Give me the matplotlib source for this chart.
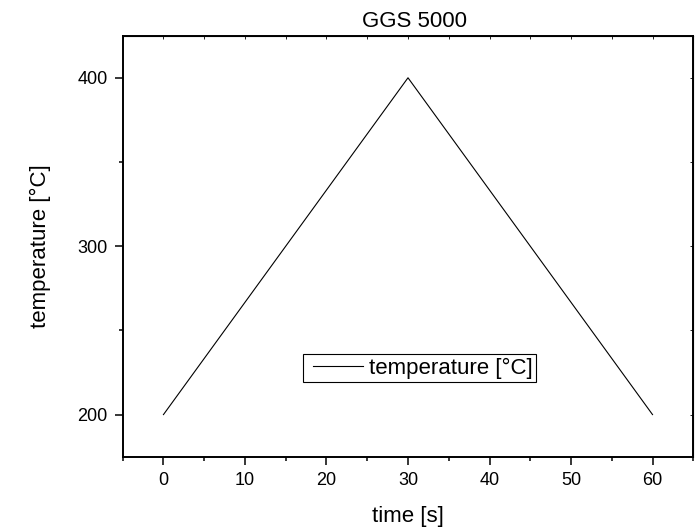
import matplotlib.pyplot as plt
from matplotlib.ticker import MultipleLocator
from matplotlib.legend_handler import HandlerLine2D

plt.rcParams['font.family'] = ['Liberation Sans', 'DejaVu Sans']

# data
time_s = [0, 30, 60]
temperature = [200, 400, 200]

fig = plt.figure(figsize=(6.96, 5.27), dpi=100)
ax = fig.add_axes([0.1763, 0.1334, 0.8198, 0.7989])

line, = ax.plot(time_s, temperature, color='black', linewidth=0.8, label='temperature [°C]')

ax.set_xlim(-5, 65)
ax.set_ylim(175, 425)
ax.xaxis.set_major_locator(MultipleLocator(10))
ax.xaxis.set_minor_locator(MultipleLocator(5))
ax.yaxis.set_major_locator(MultipleLocator(100))
ax.yaxis.set_minor_locator(MultipleLocator(50))

for s in ax.spines.values():
    s.set_linewidth(1.4)

ax.tick_params(which='major', direction='out', length=6, width=1.1, labelsize=13, pad=5)
ax.tick_params(which='minor', direction='out', length=3, width=1.1)

# top/right small inner ticks
sec_x = ax.secondary_xaxis('top')
sec_x.xaxis.set_major_locator(MultipleLocator(5))
sec_x.tick_params(direction='in', length=2, width=0.6, labeltop=False)
sec_y = ax.secondary_yaxis('right')
sec_y.yaxis.set_major_locator(MultipleLocator(50))
sec_y.tick_params(direction='in', length=2, width=0.6, labelright=False)

ax.set_xlabel('time [s]', fontsize=16, labelpad=12)
ax.set_ylabel('temperature [°C]', fontsize=16, labelpad=19)
ax.set_title('GGS 5000', fontsize=16, pad=6, x=0.512)

leg = ax.legend(loc='lower left', bbox_to_anchor=(0.3155, 0.1774), borderaxespad=0,
                fancybox=False, edgecolor='black', framealpha=1, fontsize=16,
                handlelength=2.54, handletextpad=0.3, borderpad=0.15,
                handler_map={line: HandlerLine2D(xpad=0.33)})
leg.get_frame().set_linewidth(0.8)

fig.savefig('out.png', dpi=100)
